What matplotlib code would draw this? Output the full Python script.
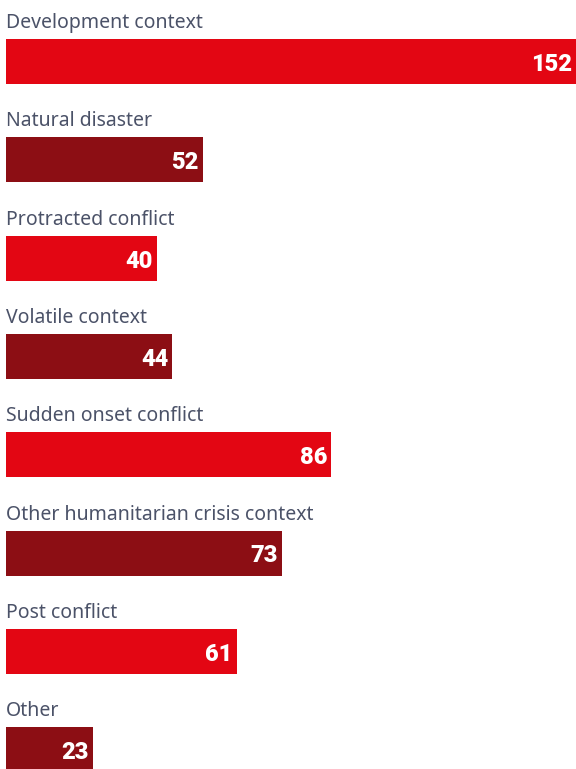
import matplotlib
matplotlib.use("Agg")
import matplotlib.pyplot as plt
import numpy as np

categories = ["Development context", "Natural disaster", "Protracted conflict",
              "Volatile context", "Sudden onset conflict",
              "Other humanitarian crisis context", "Post conflict", "Other"]
values = [152, 52, 40, 44, 86, 73, 61, 23]
colors = ["#e30613", "#8c0e14"] * 4

W, H = 576, 769
fig = plt.figure(figsize=(W / 100, H / 100), dpi=100)
ax = fig.add_axes([0, 0, 1, 1])

# pixel units on y, data units on x
x0 = 6
scale = 3.78
ax.set_xlim(-x0 / scale, (W - x0) / scale)
ax.set_ylim(H, 0)
ax.axis("off")

bar_h = 45
step = 98.3
tops = 39 + step * np.arange(len(values))

ax.barh(tops + bar_h / 2, values, height=bar_h, left=0, color=colors)

for top, cat, v in zip(tops, categories, values):
    ax.text(0, top - 11, cat, ha="left", va="baseline",
            fontsize=14, color="#4b5268", family=["Noto Sans", "DejaVu Sans"])
    end = min(v, (W - x0) / scale)
    ax.text(end - 4 / scale, top + bar_h / 2 + 3, str(v), ha="right", va="center",
            fontsize=17, color="white", fontweight="black",
            family=["Roboto", "DejaVu Sans"])

fig.savefig("out.png", dpi=100)
